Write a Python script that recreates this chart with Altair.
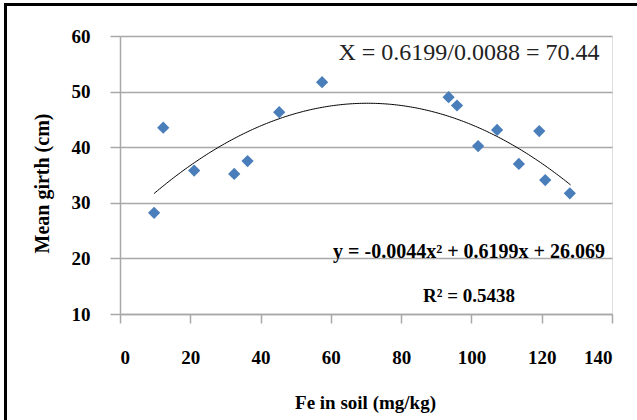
import altair as alt
import pandas as pd

# Soil iron content vs. mean girth
fe_mg_kg = [9.7, 12.3, 21.1, 32.5, 36.3, 45.3, 57.5, 93.5, 95.9, 101.9, 107.3, 113.5, 119.3, 121.0, 128.0]
girth_cm = [28.2, 43.5, 35.8, 35.2, 37.5, 46.3, 51.7, 49.0, 47.5, 40.2, 43.1, 37.0, 42.9, 34.1, 31.7]

# Quadratic trend coefficients: y = a*x^2 + b*x + c
coef_a = -0.0044
coef_b = 0.6199
coef_c = 26.069

eq_text = "y = -0.0044x\u00b2 + 0.6199x + 26.069"
r2_text = "R\u00b2 = 0.5438"
vertex_text = "X = 0.6199/0.0088 = 70.44"

x_ticks = [0, 20, 40, 60, 80, 100, 120, 140]
y_ticks = [10, 20, 30, 40, 50, 60]

FONT = "Liberation Serif"
GRID = "#a8a8a8"

df = pd.DataFrame({"fe": fe_mg_kg, "girth": girth_cm})

x_scale = alt.Scale(domain=[0, 140], nice=False)
y_scale = alt.Scale(domain=[10, 60], nice=False)

x_axis = alt.Axis(
    values=x_ticks, grid=False, domainColor=GRID, domainWidth=1.5,
    tickColor=GRID, tickWidth=1.5, tickSize=9,
    labelFont=FONT, labelFontSize=19, labelFontWeight="bold", labelColor="#000",
    labelPadding=25,
    title="Fe in soil (mg/kg)", titleFont=FONT, titleFontSize=19,
    titleFontWeight="bold", titleColor="#000",
    titleX=245, titleY=88, titleBaseline="middle", titleAlign="center",
)
y_axis = alt.Axis(
    values=y_ticks, grid=True, gridColor=GRID, gridWidth=1.5,
    domainColor=GRID, domainWidth=1.5,
    tickColor=GRID, tickWidth=1.5, tickSize=10,
    labelFont=FONT, labelFontSize=19, labelFontWeight="bold", labelColor="#000",
    labelPadding=20,
    title="Mean girth (cm)", titleFont=FONT, titleFontSize=20,
    titleFontWeight="bold", titleColor="#000",
    titleX=-78, titleY=147, titleBaseline="middle", titleAlign="center",
    titleAngle=270,
)

points = alt.Chart(df).mark_point(
    shape="diamond", filled=True, size=150, color="#4A7EBB", opacity=1
).encode(
    x=alt.X("fe:Q", scale=x_scale, axis=x_axis),
    y=alt.Y("girth:Q", scale=y_scale, axis=y_axis),
)

trend = alt.Chart(
    alt.sequence(min(fe_mg_kg), max(fe_mg_kg) + 0.25, 0.5, as_="fe")
).transform_calculate(
    girth=f"{coef_a}*datum.fe*datum.fe + {coef_b}*datum.fe + {coef_c}"
).mark_line(color="#000", strokeWidth=1).encode(
    x=alt.X("fe:Q", scale=x_scale),
    y=alt.Y("girth:Q", scale=y_scale),
)

vertex_label = alt.Chart().mark_text(
    text=vertex_text, font=FONT, fontSize=24, color="#222", align="center", baseline="middle"
).encode(x=alt.value(349), y=alt.value(17))

eq_label = alt.Chart().mark_text(
    text=eq_text, font=FONT, fontSize=20, fontWeight="bold", color="#000",
    align="center", baseline="middle"
).encode(x=alt.value(349), y=alt.value(216))

r2_label = alt.Chart().mark_text(
    text=r2_text, font=FONT, fontSize=19, fontWeight="bold", color="#000",
    align="center", baseline="middle"
).encode(x=alt.value(349), y=alt.value(260))

# Frame along the top and left edges
top_edge = alt.Chart().mark_rule(color="#000", strokeWidth=3).encode(
    x=alt.value(-116), x2=alt.value(520), y=alt.value(-31.5)
)
left_edge = alt.Chart().mark_rule(color="#000", strokeWidth=3).encode(
    x=alt.value(-114.5), y=alt.value(-33), y2=alt.value(390)
)

chart = alt.layer(
    points, trend, vertex_label, eq_label, r2_label, top_edge, left_edge
).properties(
    width=492, height=278,
    autosize=alt.AutoSizeParams(type="none"),
    padding={"left": 120, "top": 36, "right": 25, "bottom": 106},
).configure_view(stroke=None).configure(background="white")

chart.save("out.html", embed_options={"renderer": "svg", "actions": False})
